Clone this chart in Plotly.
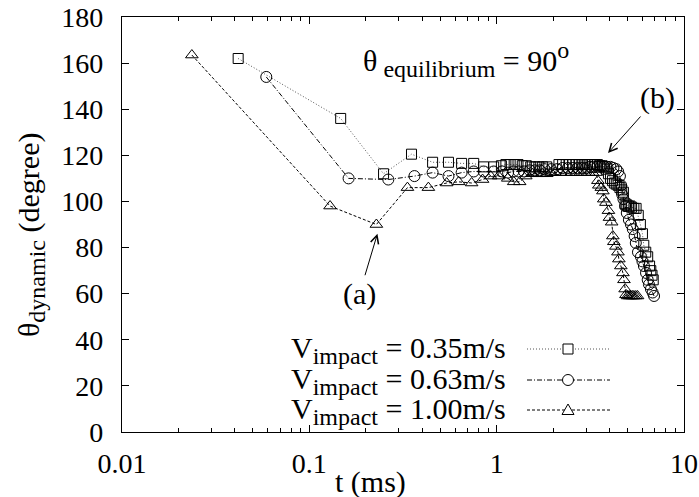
import math
import plotly.graph_objects as go

# ---- data (t in ms, contact angle in degrees) ----
t_035 = [0.0417, 0.147, 0.249, 0.351, 0.455, 0.553, 0.650, 0.754, 0.852, 0.964,
         1.06, 1.12, 1.18, 1.24, 1.30, 1.37, 1.44, 1.52, 1.60, 1.68, 1.76, 1.85,
         2.15, 2.25, 2.35, 2.45, 2.55, 2.65, 2.75, 2.85, 2.95, 3.05, 3.15, 3.25,
         3.35, 3.45, 3.55, 3.65, 3.75, 3.85, 3.95, 4.05, 4.15, 4.25, 4.35, 4.45,
         4.55, 4.65, 4.75, 4.85, 4.95, 5.05, 5.15, 5.25, 5.40, 5.55, 5.70, 5.85,
         6.00, 6.10, 6.25, 6.40, 6.55, 6.65, 6.75, 6.85]
a_035 = [162, 136, 112, 120.5, 117, 117, 116.5, 116.5, 115, 115,
         115.5, 116, 116, 116, 116, 115.5, 115.5, 115, 115, 115, 115, 115,
         116, 116, 116, 116, 116, 116, 116, 116, 116, 116, 116, 116,
         116, 116, 115.5, 115.5, 115, 114, 112, 110, 109, 108, 107.5, 107,
         106, 105, 104, 99, 98.5, 98, 98, 97.5, 97, 97, 94, 90,
         86, 81, 78, 76, 72, 70, 68, 66]

t_063 = [0.0589, 0.162, 0.264, 0.364, 0.455, 0.553, 0.650, 0.754, 0.852, 0.964,
         1.07, 1.15, 1.23, 1.31, 1.40, 1.50, 1.60, 1.70, 1.80, 1.95, 2.10, 2.25,
         2.40, 2.55, 2.70, 2.85, 3.00, 3.15, 3.30, 3.45, 3.60, 3.75, 3.90, 4.05,
         4.20, 4.35, 4.45, 4.55, 4.62, 4.68, 4.75, 4.85, 4.95, 5.08, 5.21, 5.33,
         5.45, 5.53, 5.68, 5.89, 6.00, 6.11, 6.27, 6.40, 6.50, 6.66, 6.80, 6.92]
a_063 = [154, 110, 109.5, 111, 112.5, 111, 112.5, 113, 113, 113,
         113, 112.5, 113, 113, 113, 113.5, 113.5, 113.5, 114, 114, 114, 114.5,
         114.5, 114.5, 114.5, 114.5, 114.5, 115, 115, 115, 115, 115, 115, 115,
         114.5, 114, 113, 111, 107, 103, 101, 98, 95, 92, 90, 88,
         85, 82, 78, 76, 74, 72, 69, 66, 64, 62, 60.5, 59]

t_100 = [0.0236, 0.129, 0.228, 0.334, 0.432, 0.541, 0.627, 0.735, 0.841, 0.929,
         1.025, 1.146, 1.233, 1.327, 1.43, 1.55, 1.65, 1.75, 1.85, 1.95, 2.05,
         2.20, 2.35, 2.50, 2.65, 2.80, 2.95, 3.10, 3.25, 3.40, 3.47, 3.51, 3.62,
         3.69, 3.73, 3.83, 3.95, 4.00, 4.11, 4.17, 4.22, 4.33, 4.44, 4.49, 4.60,
         4.72, 4.78, 4.85, 4.90, 5.00, 5.10, 5.20, 5.30, 5.40, 5.53, 5.65]
a_100 = [163.5, 98, 90, 106, 106, 108, 108.5, 108, 109.5, 111,
         111, 110, 108.5, 108.5, 111, 112, 112, 112, 112, 112.5, 112.5,
         112.5, 112.5, 112.5, 112.5, 112.5, 112.5, 112.5, 112.5, 112.5, 109, 107, 106,
         104.5, 101, 99.5, 96, 93, 91, 85, 82.5, 80.5, 78, 75, 72,
         69, 66, 62, 59.5, 59, 59, 59, 59, 59, 59, 59]

SUB = "<sub><span style='font-size:24px'>{}</span></sub>"
series_labels = ["V" + SUB.format("impact") + " = 0.35m/s",
                 "V" + SUB.format("impact") + " = 0.63m/s",
                 "V" + SUB.format("impact") + " = 1.00m/s"]
x_tickvals = [0.01, 0.1, 1, 10]
x_ticktext = ["0.01", "0.1", "1", "10"]
y_tickvals = [0, 20, 40, 60, 80, 100, 120, 140, 160, 180]

FONT = "Liberation Serif, Times New Roman, serif"
FS = 30
TFS = 28

styles = [
    dict(symbol="square-open", dash="1px,2px", lcolor="#555555", size=10),
    dict(symbol="circle-open", dash="5px,2px,1px,2px", lcolor="black", size=11),
    dict(symbol="triangle-up-open", dash="3px,2px", lcolor="black", size=11),
]
data = [(t_035, a_035), (t_063, a_063), (t_100, a_100)]

fig = go.Figure()
for (tx, ay), st, lab in zip(data, styles, series_labels):
    fig.add_trace(go.Scatter(
        x=tx, y=ay, mode="lines+markers", name=lab, showlegend=False,
        line=dict(color=st["lcolor"], width=1, dash=st["dash"]),
        marker=dict(symbol=st["symbol"], size=st["size"], color="black",
                    line=dict(width=1, color="black")),
    ))

L, R, T, B = 122, 15, 17, 65
W, H = 699, 497
pw, ph = W - L - R, H - T - B

def px(xp):
    return (xp - L) / pw

def py(yp):
    return (H - B - yp) / ph

tf = dict(family=FONT, size=FS, color="black")
annotations = [
    dict(text="θ" + SUB.format(" equilibrium") + " = 90<sup><span style='font-size:24px'>o</span></sup>",
         xref="paper", yref="paper",
         x=px(361), y=py(60), xanchor="left", yanchor="middle", showarrow=False, font=tf),
    dict(text="t (ms)", xref="paper", yref="paper", x=px(370), y=py(482),
         xanchor="center", yanchor="middle", showarrow=False, font=tf),
    dict(text="θ" + SUB.format("dynamic") + " (degree)", xref="paper", yref="paper",
         x=px(31), y=py(235), xanchor="center", yanchor="middle", textangle=-90,
         showarrow=False, font=tf),
    dict(text="(a)", x=math.log10(0.231), y=86, xref="x", yref="y",
         ax=-18, ay=60, showarrow=True, arrowhead=5, arrowsize=1.6, arrowwidth=1,
         arrowcolor="black", font=tf),
    dict(text="(b)", x=math.log10(3.93), y=121, xref="x", yref="y",
         ax=49, ay=-55, showarrow=True, arrowhead=5, arrowsize=1.6, arrowwidth=1,
         arrowcolor="black", font=tf),
]

rows = [349, 380, 410]
shapes = []
for lab, st, r in zip(series_labels, styles, rows):
    annotations.append(dict(text=lab, xref="paper", yref="paper", x=px(508), y=py(r + 1),
                            xanchor="right", yanchor="middle", showarrow=False, font=tf))
    shapes.append(dict(type="line", xref="paper", yref="paper", x0=px(527), x1=px(610),
                       y0=py(r), y1=py(r),
                       line=dict(color=st["lcolor"], width=1, dash=st["dash"])))
    if st["symbol"].startswith("square"):
        shapes.append(dict(type="rect", xref="paper", yref="paper",
                           xsizemode="pixel", ysizemode="pixel",
                           xanchor=px(568), yanchor=py(r), x0=-5, x1=5, y0=-5, y1=5,
                           fillcolor="white", line=dict(color="black", width=1)))
    elif st["symbol"].startswith("circle"):
        shapes.append(dict(type="circle", xref="paper", yref="paper",
                           xsizemode="pixel", ysizemode="pixel",
                           xanchor=px(568), yanchor=py(r), x0=-5.5, x1=5.5, y0=-5.5, y1=5.5,
                           fillcolor="white", line=dict(color="black", width=1)))
    else:
        shapes.append(dict(type="path", xref="paper", yref="paper",
                           xsizemode="pixel", ysizemode="pixel",
                           xanchor=px(568), yanchor=py(r),
                           path="M -6 -4.5 L 6 -4.5 L 0 6 Z",
                           fillcolor="white", line=dict(color="black", width=1)))

fig.update_layout(
    width=W, height=H, autosize=False,
    margin=dict(l=L, r=R, t=T, b=B, pad=0, autoexpand=False),
    paper_bgcolor="white", plot_bgcolor="white",
    font=dict(family=FONT, size=FS, color="black"),
    annotations=annotations, shapes=shapes,
    xaxis=dict(type="log", range=[-2, 1], tickvals=x_tickvals, ticktext=x_ticktext,
               automargin=False,
               ticks="inside", ticklen=7, tickwidth=1, tickcolor="black",
               showline=True, linecolor="black", linewidth=1.3, mirror="allticks",
               showgrid=False, zeroline=False, ticklabelstandoff=6,
               minor=dict(ticks="inside", ticklen=4, tickwidth=1, tickcolor="black",
                          showgrid=False,
                          tickvals=[0.02, 0.03, 0.04, 0.05, 0.06, 0.07, 0.08, 0.09,
                                    0.2, 0.3, 0.4, 0.5, 0.6, 0.7, 0.8, 0.9,
                                    2, 3, 4, 5, 6, 7, 8, 9]),
               tickfont=dict(family=FONT, size=TFS)),
    yaxis=dict(range=[0, 180], tickvals=y_tickvals, automargin=False,
               ticks="inside", ticklen=7, tickwidth=1, tickcolor="black",
               showline=True, linecolor="black", linewidth=1.3, mirror="allticks",
               showgrid=False, zeroline=False, ticklabelstandoff=12,
               tickfont=dict(family=FONT, size=TFS)),
)

fig.write_html("out.html")
